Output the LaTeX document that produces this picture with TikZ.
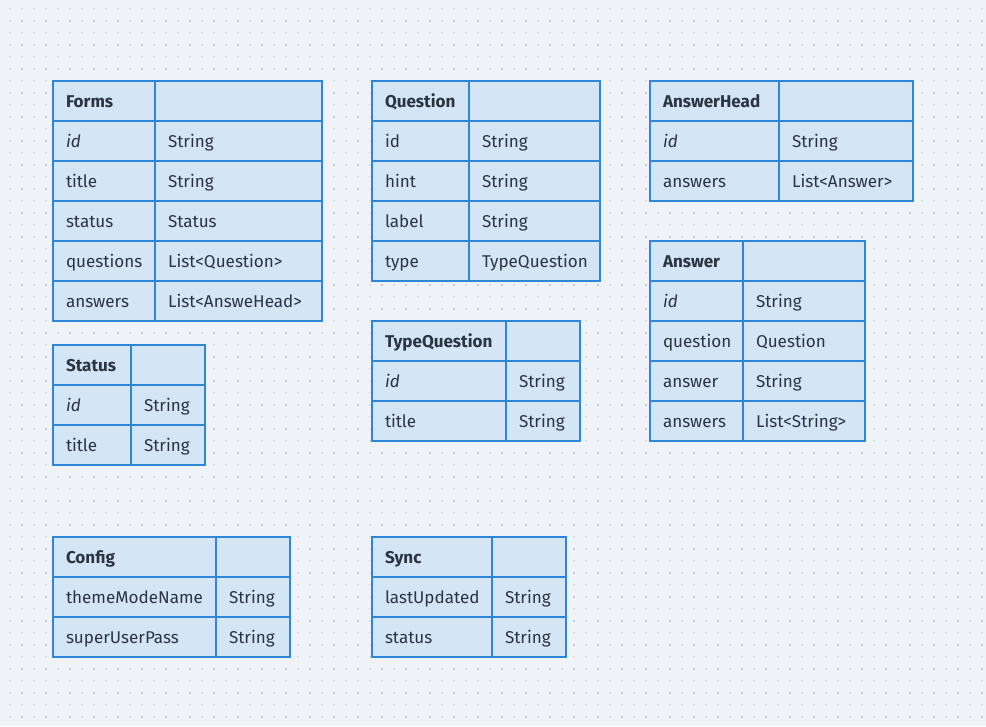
\documentclass[tikz,border=0pt]{standalone}
\usepackage{fontspec}
\setmainfont{Fira Sans}
\usetikzlibrary{positioning}
\definecolor{bgcol}{HTML}{EFF3F7}
\definecolor{dotcol}{HTML}{DCE1E8}
\definecolor{dotdark}{HTML}{C6CDD8}
\definecolor{cellcol}{HTML}{D4E5F6}
\definecolor{linecol}{HTML}{2E86D6}
\definecolor{txtcol}{HTML}{2B3440}

\begin{document}
\begin{tikzpicture}[x=0.75pt, y=-0.75pt,
    cell/.style={draw=linecol, fill=cellcol, line width=1.5pt, outer sep=0pt,
      anchor=north west, align=left, minimum height=30pt, inner xsep=9.75pt,
      text height=10.5pt, text depth=1.5pt, text=txtcol, font=\fontsize{12.8}{14}\selectfont},
    head/.style={cell, font=\fontsize{12.8}{14}\selectfont\bfseries}]
  % background and dots
  \fill[bgcol] (0,0) rectangle (986,726);
  \useasboundingbox (0,0) rectangle (986,726);
  \foreach \x in {10,22,...,982}
    \foreach \y in {9,21,...,717}
      \fill[dotcol] (\x-1,\y-1) rectangle ++(2,2);
  \foreach \x in {22,46,...,982}
    \foreach \y in {21,45,...,717}
      \fill[dotdark] (\x-1,\y-1) rectangle ++(2,2);

  % Forms
  \node[head, text width=57pt] (forms-a0) at (53,81) {Forms};
  \node[cell, text width=105.75pt] (forms-b0) at (forms-a0.north east) {};
  \foreach \f/\t [count=\i] in {\textit{id}/String, title/String, status/Status,
      questions/List<Question>, answers/List<AnsweHead>}
  {
    \node[cell, text width=57pt] (forms-a\i) at (53,81+40*\i) {\f};
    \node[cell, text width=105.75pt] (forms-b\i) at (forms-a\i.north east) {\t};
  }

  % Question
  \node[head, text width=53.25pt] (quest-a0) at (372,81) {Question};
  \node[cell, text width=78.75pt] (quest-b0) at (quest-a0.north east) {};
  \foreach \f/\t [count=\i] in {id/String, hint/String, label/String, type/TypeQuestion}
  {
    \node[cell, text width=53.25pt] (quest-a\i) at (372,81+40*\i) {\f};
    \node[cell, text width=78.75pt] (quest-b\i) at (quest-a\i.north east) {\t};
  }

  % AnswerHead
  \node[head, text width=77.25pt] (ahead-a0) at (650,81) {AnswerHead};
  \node[cell, text width=81pt] (ahead-b0) at (ahead-a0.north east) {};
  \foreach \f/\t [count=\i] in {\textit{id}/String, answers/List<Answer>}
  {
    \node[cell, text width=77.25pt] (ahead-a\i) at (650,81+40*\i) {\f};
    \node[cell, text width=81pt] (ahead-b\i) at (ahead-a\i.north east) {\t};
  }

  % Answer
  \node[head, text width=50.25pt] (answ-a0) at (650,241) {Answer};
  \node[cell, text width=72pt] (answ-b0) at (answ-a0.north east) {};
  \foreach \f/\t [count=\i] in {\textit{id}/String, question/Question, answer/String,
      answers/List<String>}
  {
    \node[cell, text width=50.25pt] (answ-a\i) at (650,241+40*\i) {\f};
    \node[cell, text width=72pt] (answ-b\i) at (answ-a\i.north east) {\t};
  }

  % Status
  \node[head, text width=39pt] (stat-a0) at (53,345) {Status};
  \node[cell, text width=36pt] (stat-b0) at (stat-a0.north east) {};
  \foreach \f/\t [count=\i] in {\textit{id}/String, title/String}
  {
    \node[cell, text width=39pt] (stat-a\i) at (53,345+40*\i) {\f};
    \node[cell, text width=36pt] (stat-b\i) at (stat-a\i.north east) {\t};
  }

  % TypeQuestion
  \node[head, text width=81pt] (tquest-a0) at (372,321) {TypeQuestion};
  \node[cell, text width=36pt] (tquest-b0) at (tquest-a0.north east) {};
  \foreach \f/\t [count=\i] in {\textit{id}/String, title/String}
  {
    \node[cell, text width=81pt] (tquest-a\i) at (372,321+40*\i) {\f};
    \node[cell, text width=36pt] (tquest-b\i) at (tquest-a\i.north east) {\t};
  }

  % Config
  \node[head, text width=102.75pt] (conf-a0) at (53,537) {Config};
  \node[cell, text width=36pt] (conf-b0) at (conf-a0.north east) {};
  \foreach \f/\t [count=\i] in {themeModeName/String, superUserPass/String}
  {
    \node[cell, text width=102.75pt] (conf-a\i) at (53,537+40*\i) {\f};
    \node[cell, text width=36pt] (conf-b\i) at (conf-a\i.north east) {\t};
  }

  % Sync
  \node[head, text width=70.5pt] (sync-a0) at (372,537) {Sync};
  \node[cell, text width=36pt] (sync-b0) at (sync-a0.north east) {};
  \foreach \f/\t [count=\i] in {lastUpdated/String, status/String}
  {
    \node[cell, text width=70.5pt] (sync-a\i) at (372,537+40*\i) {\f};
    \node[cell, text width=36pt] (sync-b\i) at (sync-a\i.north east) {\t};
  }
\end{tikzpicture}
\end{document}
